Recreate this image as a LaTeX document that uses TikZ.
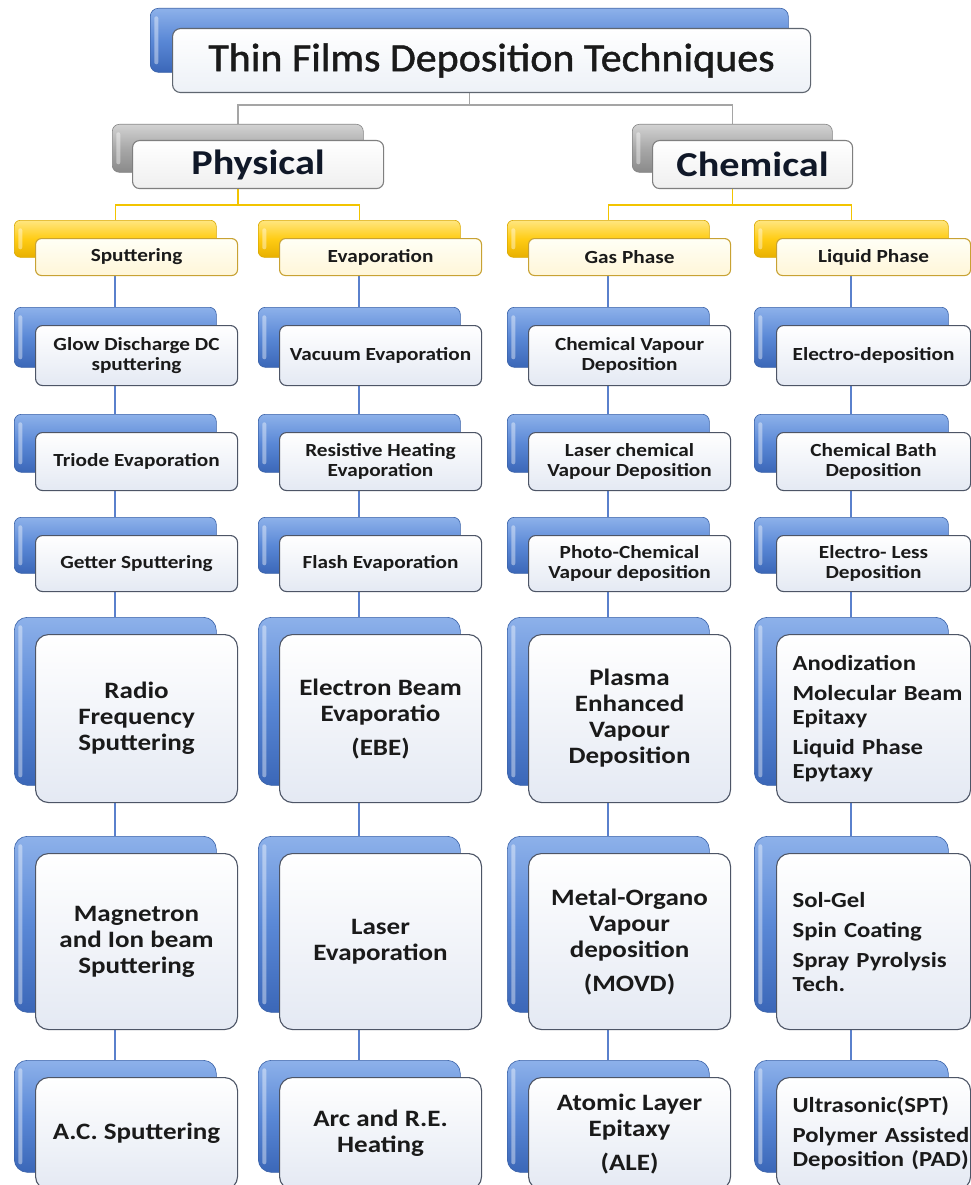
\documentclass[tikz,border=0pt]{standalone}
\usepackage{fontspec}
\setmainfont{Carlito}[FakeStretch=1.15]
\newfontfamily\titlefont{Carlito}[FakeStretch=1.05, FakeBold=1.2]
\usetikzlibrary{backgrounds}

\definecolor{blueTop}{HTML}{8DB1EA}
\definecolor{blueMid}{HTML}{5A88D6}
\definecolor{blueBot}{HTML}{3B67B8}
\definecolor{blueDark}{HTML}{3A62A8}
\definecolor{yelTop}{HTML}{FFE680}
\definecolor{yelMid}{HTML}{FFCC14}
\definecolor{yelBot}{HTML}{E8B000}
\definecolor{yelDark}{HTML}{D9A800}
\definecolor{grayTop}{HTML}{D2D2D2}
\definecolor{grayMid}{HTML}{A8A8A8}
\definecolor{grayBot}{HTML}{8A8A8A}
\definecolor{grayDark}{HTML}{858585}
\definecolor{frontBot}{HTML}{E4E9F3}
\definecolor{frontBorder}{HTML}{4D5566}
\definecolor{yelFrontTop}{HTML}{FFFFF6}
\definecolor{yelFrontBot}{HTML}{FFF6D8}
\definecolor{yelBorder}{HTML}{C8A233}
\definecolor{grayFrontBot}{HTML}{EFEFEF}
\definecolor{grayBorder}{HTML}{7F7F7F}
\definecolor{titleFrontBot}{HTML}{EDF1F7}
\definecolor{titleBorder}{HTML}{5F6670}
\definecolor{txt}{HTML}{1A1A1A}
\definecolor{headtxt}{HTML}{101828}
\definecolor{bconnc}{HTML}{5A80CC}
\definecolor{yconnc}{HTML}{F2C400}
\definecolor{gconnc}{HTML}{A5A5A5}

\tikzset{
  backbase/.style={inner sep=0pt, line width=0.6pt,
    path picture={\fill[white,opacity=0.4,rounded corners=2pt]
      ([xshift=4pt,yshift=-8pt]path picture bounding box.north west) rectangle
      ([xshift=8pt,yshift=8pt]path picture bounding box.south west);}},
  blueback/.style={backbase, draw=blueDark, top color=blueTop, bottom color=blueBot, middle color=blueMid},
  frontbase/.style={inner sep=0pt, line width=1.1pt, draw=frontBorder, top color=white, bottom color=frontBot, text=txt, align=center},
  sback/.style={blueback, rounded corners=7pt},
  sfront/.style={frontbase, rounded corners=7pt, font=\bfseries\fontsize{18.5}{20.5}\selectfont},
  bback/.style={blueback, rounded corners=13pt},
  bfront/.style={frontbase, rounded corners=13pt, font=\bfseries\fontsize{23.5}{26}\selectfont},
  lback/.style={bback},
  lfront/.style={bfront, align=left, text width=162pt, font=\bfseries\fontsize{21.5}{24}\selectfont},
  yback/.style={backbase, draw=yelDark, top color=yelTop, bottom color=yelBot, middle color=yelMid, rounded corners=6pt},
  yfront/.style={frontbase, draw=yelBorder, top color=yelFrontTop, bottom color=yelFrontBot, rounded corners=6pt, font=\bfseries\fontsize{18.5}{20.5}\selectfont},
  gback/.style={backbase, draw=grayDark, top color=grayTop, bottom color=grayBot, middle color=grayMid, rounded corners=7pt},
  gfront/.style={frontbase, draw=grayBorder, top color=white, bottom color=grayFrontBot, rounded corners=7pt, text=headtxt, font=\bfseries\fontsize{35}{40}\selectfont},
  tback/.style={blueback, rounded corners=8pt},
  tfront/.style={frontbase, draw=titleBorder, top color=white, bottom color=titleFrontBot, rounded corners=8pt, font=\titlefont\fontsize{40}{44}\selectfont},
  bconn/.style={draw=bconnc, line width=1.8pt},
  yconn/.style={draw=yconnc, line width=1.6pt},
  gconn/.style={draw=gconnc, line width=1.6pt},
}

% name, kind, x, y, w, h, dx, dy, text
\newcommand\mkbox[9]{%
  \node[#2back, minimum width=#5pt, minimum height=#6pt, anchor=north west] (#1b) at (#3-#7,#4-#8) {};
  \node[#2front, minimum width=#5pt, minimum height=#6pt, anchor=north west] (#1) at (#3,#4) {#9};}

\begin{document}
\begin{tikzpicture}[x=1pt,y=-1pt]
\useasboundingbox (0,0) rectangle (970,1185);

\mkbox{title}{t}{172}{28}{638}{64}{22}{20}{Thin Films Deposition Techniques}
\mkbox{phys}{g}{132}{140}{251}{48}{20}{16}{Physical}
\mkbox{chem}{g}{652}{140}{200}{48}{20}{16}{Chemical}

\mkbox{sput}{y}{35}{238}{202}{37}{21}{18}{Sputtering}
\mkbox{evap}{y}{279}{238}{202}{37}{21}{18}{Evaporation}
\mkbox{gas}{y}{528}{238}{202}{37}{21}{18}{Gas Phase}
\mkbox{liq}{y}{776}{238}{194}{37}{22}{18}{Liquid Phase}

% column a
\mkbox{a1}{s}{35}{325}{202}{60}{21}{18}{Glow Discharge DC\\sputtering}
\mkbox{a2}{s}{35}{432}{202}{58}{21}{18}{Triode Evaporation}
\mkbox{a3}{s}{35}{535}{202}{56}{21}{18}{Getter Sputtering}
\mkbox{a4}{b}{35}{634}{202}{168}{21}{17}{Radio\\Frequency\\Sputtering}
\mkbox{a5}{b}{35}{853}{202}{176}{21}{17}{Magnetron\\and Ion beam\\Sputtering}
\mkbox{a6}{b}{35}{1077}{202}{112}{21}{17}{A.C. Sputtering}

% column b
\mkbox{b1}{s}{279}{325}{202}{60}{21}{18}{Vacuum Evaporation}
\mkbox{b2}{s}{279}{432}{202}{58}{21}{18}{Resistive Heating\\Evaporation}
\mkbox{b3}{s}{279}{535}{202}{56}{21}{18}{Flash Evaporation}
\mkbox{b4}{b}{279}{634}{202}{168}{21}{17}{Electron Beam\\Evaporatio\\[8pt](EBE)}
\mkbox{b5}{b}{279}{853}{202}{176}{21}{17}{Laser\\Evaporation}
\mkbox{b6}{b}{279}{1077}{202}{112}{21}{17}{Arc and R.E.\\Heating}

% column c
\mkbox{c1}{s}{528}{325}{202}{60}{21}{18}{Chemical Vapour\\Deposition}
\mkbox{c2}{s}{528}{432}{202}{58}{21}{18}{Laser chemical\\Vapour Deposition}
\mkbox{c3}{s}{528}{535}{202}{56}{21}{18}{Photo-Chemical\\Vapour deposition}
\mkbox{c4}{b}{528}{634}{202}{168}{21}{17}{Plasma\\Enhanced\\Vapour\\Deposition}
\mkbox{c5}{b}{528}{853}{202}{176}{21}{17}{Metal-Organo\\Vapour\\deposition\\[8pt](MOVD)}
\mkbox{c6}{b}{528}{1077}{202}{112}{21}{17}{Atomic Layer\\Epitaxy\\[8pt](ALE)}

% column d
\mkbox{d1}{s}{776}{325}{194}{60}{22}{18}{Electro-deposition}
\mkbox{d2}{s}{776}{432}{194}{58}{22}{18}{Chemical Bath\\Deposition}
\mkbox{d3}{s}{776}{535}{194}{56}{22}{18}{Electro- Less\\Deposition}
\mkbox{d4}{l}{776}{634}{194}{168}{22}{17}{\mbox{Anodization}\\[6pt]\mbox{Molecular Beam}\\\mbox{Epitaxy}\\[6pt]\mbox{Liquid Phase}\\\mbox{Epytaxy}}
\mkbox{d5}{l}{776}{853}{194}{176}{22}{17}{\mbox{Sol-Gel}\\[6pt]\mbox{Spin Coating}\\[6pt]\mbox{Spray Pyrolysis}\\\mbox{Tech.}}
\mkbox{d6}{l}{776}{1077}{194}{112}{22}{17}{\mbox{Ultrasonic(SPT)}\\[6pt]\mbox{Polymer Assisted}\\\mbox{Deposition (PAD)}}

\begin{scope}[on background layer]
  \fill[white] (0,0) rectangle (970,1185);
  % title level
  \coordinate (tj) at ([yshift=-12pt]titleb.center |- title.south);
  \draw[gconn] (titleb.center |- title.south) -- (tj);
  \draw[gconn] (physb.north) |- (tj) -| (chemb.north);
  % physical / chemical
  \coordinate (pj) at ([yshift=-16pt]physb.center |- phys.south);
  \coordinate (cj) at ([yshift=-16pt]chemb.center |- chem.south);
  \draw[yconn] (physb.center |- phys.south) -- (pj);
  \draw[yconn] (sputb.north) |- (pj) -| (evapb.north);
  \draw[yconn] (chemb.center |- chem.south) -- (cj);
  \draw[yconn] (gasb.north) |- (cj) -| (liqb.north);
  % columns
  \foreach \myc/\myh in {a/sput,b/evap,c/gas,d/liq}{
    \draw[bconn] (\myh b.center |- \myh.south) -- (\myc1b.north);
    \foreach \i [evaluate=\i as \j using int(\i+1)] in {1,...,5}{
      \draw[bconn] (\myc\i b.center |- \myc\i.south) -- (\myc\j b.north);
    }
  }
\end{scope}
\end{tikzpicture}
\end{document}
